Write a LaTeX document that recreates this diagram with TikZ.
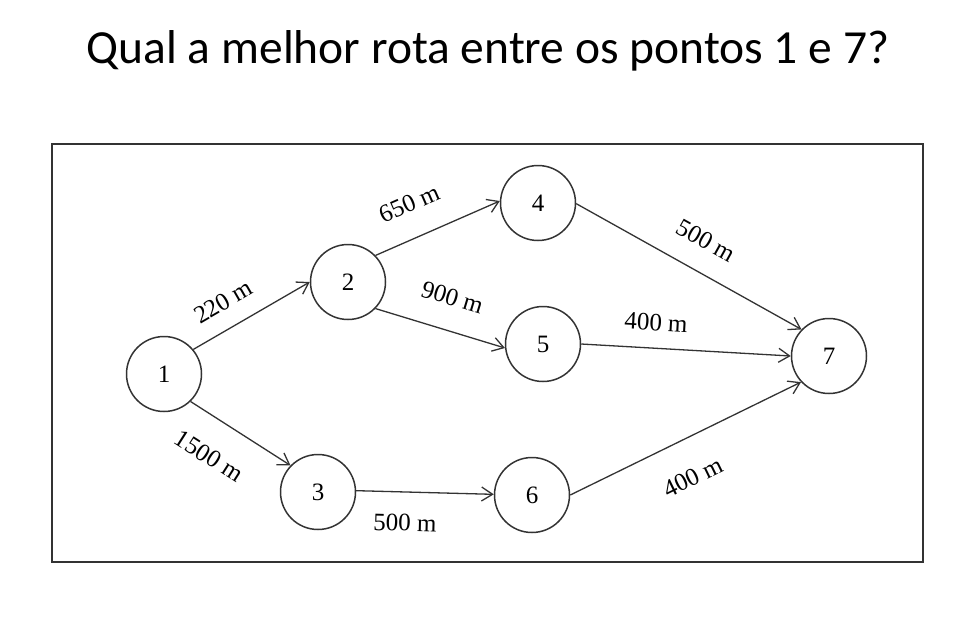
\documentclass[tikz,border=0pt]{standalone}
\usepackage{fontspec}
\setmainfont{Liberation Serif}
\newfontfamily\titlefont{Carlito}
\usetikzlibrary{arrows.meta}
\usetikzlibrary{positioning}
\tikzset{	x=1pt, y=-1pt,
	every node/.style={
		font=\fontsize{25}{29}\selectfont},
	place/.style={
		circle,
		draw=black!80,
		line width=1.5pt,
		minimum size=75pt,
		inner sep=0pt},
	route/.style={
		draw=black!80,
		line width=1.3pt,
		-{Straight Barb[length=11pt,width=14pt]}},
	dist/.style={
		sloped,
		inner sep=0pt}
}
\begin{document}
\begin{tikzpicture}
	\useasboundingbox (0,0) rectangle (975,633);
	\node[anchor=base, font=\titlefont\fontsize{47.5}{56}\selectfont] (title) at (488,63) {Qual a melhor rota entre os pontos 1 e 7?};
	\draw[draw=black!80, line width=2pt] (52,144) rectangle (923,562);
	\node[place] (n1) at (164,374) {1};
	\node[place] (n2) at (348,282) {2};
	\node[place] (n3) at (318,492) {3};
	\node[place] (n4) at (538,203) {4};
	\node[place] (n5) at (543,344) {5};
	\node[place] (n6) at (532,495) {6};
	\node[place] (n7) at (829,356) {7};
	\draw[route] (n1.40) -- node[dist, pos=0.37, yshift=26pt] {220 m} (n2.180);
	\draw[route] (n1.-46) -- node[dist, pos=0.38, yshift=-36pt] {1500 m} (n3.136);
	\draw[route] (n2.44) -- node[dist, pos=0.38, yshift=34pt] {650 m} (n4.177);
	\draw[route] (n2.-44) -- node[dist, pos=0.52, yshift=33pt] {900 m} (n5.186);
	\draw[route] (n3.2) -- node[dist, pos=0.36, yshift=-31pt] {500 m} (n6.179);
	\draw[route] (n4.-1) -- node[dist, pos=0.51, yshift=31pt] {500 m} (n7.136);
	\draw[route] (n5.0) -- node[dist, pos=0.35, yshift=26pt] {400 m} (n7.180);
	\draw[route] (n6.0) -- node[dist, pos=0.46, yshift=-38pt] {400 m} (n7.223);
\end{tikzpicture}
\end{document}
